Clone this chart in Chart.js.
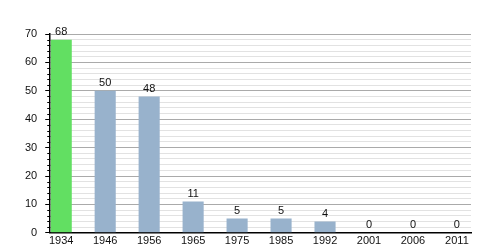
<!DOCTYPE html>
<html>
<head>
<meta charset="UTF-8">
<title>Chart</title>
<script src="https://cdn.jsdelivr.net/npm/chart.js@4.4.1/dist/chart.umd.min.js"></script>
<style>
  html, body { margin: 0; padding: 0; background: #fff; }
  #wrap { width: 500px; height: 250px; }
</style>
</head>
<body>
<div id="wrap"><canvas id="myChart"></canvas></div>
<script>
var years = ['1934', '1946', '1956', '1965', '1975', '1985', '1992', '2001', '2006', '2011'];
var counts = [68, 50, 48, 11, 5, 5, 4, 0, 0, 0];
var barColors = ['#62df62', '#98b2cc', '#98b2cc', '#98b2cc', '#98b2cc', '#98b2cc', '#98b2cc', '#98b2cc', '#98b2cc', '#98b2cc'];

var points = counts.map(function(v, i) { return { x: i, y: v }; });

// minor tick marks on the y axis + value labels over bars
var extras = {
    id: 'extras',
    afterDatasetsDraw: function(chart) {
        var ctx = chart.ctx;
        var y = chart.scales.y;
        var left = chart.chartArea.left;
        ctx.save();
        ctx.strokeStyle = '#000';
        ctx.lineWidth = 1;
        for (var v = 0; v <= 70; v += 2) {
            if (v % 10 === 0) continue;
            var py = Math.round(y.getPixelForValue(v)) + 0.5;
            ctx.beginPath();
            ctx.moveTo(left - 3, py);
            ctx.lineTo(left, py);
            ctx.stroke();
        }
        ctx.fillStyle = '#111';
        ctx.font = '11px "Liberation Sans", Arial, sans-serif';
        ctx.textAlign = 'center';
        ctx.textBaseline = 'bottom';
        chart.getDatasetMeta(0).data.forEach(function(bar, i) {
            ctx.fillText(counts[i], bar.x, bar.y - 2);
        });
        ctx.restore();
    }
};

new Chart('myChart', {
    type: 'bar',
    data: {
        datasets: [{
            data: points,
            backgroundColor: barColors,
            borderWidth: 0,
            barPercentage: 0.48,
            categoryPercentage: 1
        }]
    },
    options: {
        responsive: true,
        maintainAspectRatio: false,
        animation: false,
        layout: { padding: { top: 34, right: 29, bottom: 0, left: 17 } },
        plugins: { legend: { display: false }, tooltip: { enabled: false } },
        scales: {
            x: {
                type: 'linear',
                offset: false,
                min: -0.25,
                max: 9.32,
                grid: { display: false, drawTicks: false },
                border: { color: '#000', width: 1.5 },
                afterBuildTicks: function(scale) {
                    scale.ticks = years.map(function(y, i) { return { value: i }; });
                },
                ticks: {
                    autoSkip: false,
                    maxRotation: 0,
                    padding: 2,
                    color: '#111',
                    font: { size: 11, family: '"Liberation Sans", Arial, sans-serif' },
                    callback: function(v) { return years[v]; }
                }
            },
            y: {
                min: 0,
                max: 70,
                grid: {
                    color: function(c) { return c.tick.value % 10 === 0 ? '#aaaaaa' : '#e2e2e2'; },
                    tickColor: function(c) { return c.tick.value % 10 === 0 ? '#000' : 'rgba(0,0,0,0)'; },
                    tickLength: 5
                },
                border: { color: '#000', width: 1.5 },
                ticks: {
                    stepSize: 2,
                    autoSkip: false,
                    padding: 8,
                    color: '#111',
                    font: { size: 11, family: '"Liberation Sans", Arial, sans-serif' },
                    callback: function(v) { return v % 10 === 0 ? v : ''; }
                }
            }
        }
    },
    plugins: [extras]
});
</script>
</body>
</html>
